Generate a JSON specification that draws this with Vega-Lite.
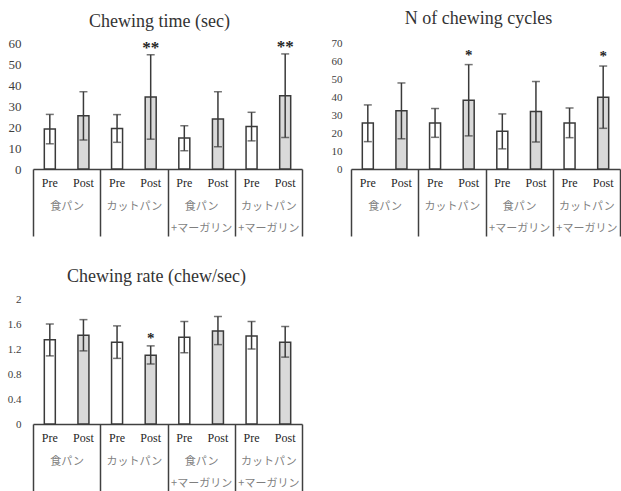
{
  "$schema": "https://vega.github.io/schema/vega-lite/v6.json",
  "padding": {"left": 7, "top": 10, "right": 0, "bottom": 0},
  "background": "white",
  "config": {
    "view": {"stroke": null},
    "axis": {"grid": false},
    "axisY": {"labelOverlap": false, "domain": false, "ticks": false, "labelFont": "Liberation Serif", "labelColor": "#404040"},
    "title": {"font": "Liberation Serif", "fontWeight": "normal", "fontSize": 18, "color": "#333333", "anchor": "middle", "frame": "group", "baseline": "alphabetic"}
  },
  "datasets": {
    "time": [
      {"group": "食パン", "cond": "Pre", "mean": 19.0, "lo": 12.0, "hi": 26.0, "sig": ""},
      {"group": "食パン", "cond": "Post", "mean": 25.3, "lo": 13.8, "hi": 36.8, "sig": ""},
      {"group": "カットパン", "cond": "Pre", "mean": 19.3, "lo": 12.7, "hi": 25.9, "sig": ""},
      {"group": "カットパン", "cond": "Post", "mean": 34.3, "lo": 14.2, "hi": 54.4, "sig": "**"},
      {"group": "食パン +マーガリン", "cond": "Pre", "mean": 14.8, "lo": 8.7, "hi": 20.6, "sig": ""},
      {"group": "食パン +マーガリン", "cond": "Post", "mean": 23.8, "lo": 10.6, "hi": 36.8, "sig": ""},
      {"group": "カットパン +マーガリン", "cond": "Pre", "mean": 20.2, "lo": 13.4, "hi": 27.0, "sig": ""},
      {"group": "カットパン +マーガリン", "cond": "Post", "mean": 34.9, "lo": 15.0, "hi": 54.8, "sig": "**"}
    ],
    "cycles": [
      {"group": "食パン", "cond": "Pre", "mean": 25.6, "lo": 15.2, "hi": 35.6, "sig": ""},
      {"group": "食パン", "cond": "Post", "mean": 32.3, "lo": 16.8, "hi": 47.8, "sig": ""},
      {"group": "カットパン", "cond": "Pre", "mean": 25.6, "lo": 17.6, "hi": 33.6, "sig": ""},
      {"group": "カットパン", "cond": "Post", "mean": 38.2, "lo": 18.4, "hi": 58.0, "sig": "*"},
      {"group": "食パン +マーガリン", "cond": "Pre", "mean": 21.0, "lo": 11.2, "hi": 30.6, "sig": ""},
      {"group": "食パン +マーガリン", "cond": "Post", "mean": 31.9, "lo": 15.0, "hi": 48.6, "sig": ""},
      {"group": "カットパン +マーガリン", "cond": "Pre", "mean": 25.6, "lo": 17.4, "hi": 33.9, "sig": ""},
      {"group": "カットパン +マーガリン", "cond": "Post", "mean": 39.9, "lo": 22.6, "hi": 57.2, "sig": "*"}
    ],
    "rate": [
      {"group": "食パン", "cond": "Pre", "mean": 1.35, "lo": 1.09, "hi": 1.60, "sig": ""},
      {"group": "食パン", "cond": "Post", "mean": 1.42, "lo": 1.17, "hi": 1.67, "sig": ""},
      {"group": "カットパン", "cond": "Pre", "mean": 1.31, "lo": 1.05, "hi": 1.57, "sig": ""},
      {"group": "カットパン", "cond": "Post", "mean": 1.10, "lo": 0.96, "hi": 1.25, "sig": "*"},
      {"group": "食パン +マーガリン", "cond": "Pre", "mean": 1.39, "lo": 1.14, "hi": 1.64, "sig": ""},
      {"group": "食パン +マーガリン", "cond": "Post", "mean": 1.49, "lo": 1.27, "hi": 1.72, "sig": ""},
      {"group": "カットパン +マーガリン", "cond": "Pre", "mean": 1.41, "lo": 1.20, "hi": 1.64, "sig": ""},
      {"group": "カットパン +マーガリン", "cond": "Post", "mean": 1.31, "lo": 1.07, "hi": 1.56, "sig": ""}
    ]
  },
  "bounds": "flush",
  "columns": 2,
  "spacing": {"row": 130, "column": 49},
  "concat": [
    {
      "title": {"text": "Chewing time (sec)", "dx": -8, "offset": 6},
      "width": 269,
      "height": 126,
      "data": {"name": "time"},
      "encoding": {
        "x": {"field": "group", "type": "nominal", "sort": null, "scale": {"paddingInner": 0, "paddingOuter": 0},
          "axis": {"title": null, "labelAngle": 0, "domainColor": "#404040", "domainWidth": 1.5, "tickBand": "extent", "tickSize": 67, "tickColor": "#404040", "tickWidth": 1.5, "labelExpr": "split(datum.label, ' ')", "labelFont": "Noto Sans CJK JP", "labelFontSize": 11, "labelColor": "#7f7f7f", "labelLineHeight": 22, "labelPadding": -36, "labelBaseline": "top"}},
        "xOffset": {"field": "cond", "type": "nominal", "sort": ["Pre", "Post"], "scale": {"paddingInner": 0, "paddingOuter": 0}}
      },
      "layer": [
        {"mark": {"type": "bar", "width": 11, "stroke": "#3a3a3a", "strokeWidth": 1.5},
         "encoding": {
           "y": {"field": "mean", "type": "quantitative", "title": null, "scale": {"domain": [0, 60], "nice": false},
             "axis": {"values": [0, 10, 20, 30, 40, 50, 60], "labelOverlap": false, "labelFontSize": 13, "labelPadding": 12}},
           "fill": {"field": "cond", "type": "nominal", "scale": {"domain": ["Pre", "Post"], "range": ["#ffffff", "#d9d9d9"]}, "legend": null}}},
        {"mark": {"type": "rule", "color": "#3a3a3a", "strokeWidth": 1.5},
         "encoding": {"y": {"field": "lo", "type": "quantitative", "title": null, "axis": {"values": [0, 10, 20, 30, 40, 50, 60], "labelOverlap": false, "labelFontSize": 13, "labelPadding": 12}}, "y2": {"field": "hi"}}},
        {"mark": {"type": "tick", "color": "#3a3a3a", "size": 8, "thickness": 1.5},
         "encoding": {"y": {"field": "lo", "type": "quantitative", "title": null, "axis": {"values": [0, 10, 20, 30, 40, 50, 60], "labelOverlap": false, "labelFontSize": 13, "labelPadding": 12}}}},
        {"mark": {"type": "tick", "color": "#3a3a3a", "size": 8, "thickness": 1.5},
         "encoding": {"y": {"field": "hi", "type": "quantitative", "title": null, "axis": {"values": [0, 10, 20, 30, 40, 50, 60], "labelOverlap": false, "labelFontSize": 13, "labelPadding": 12}}}},
        {"mark": {"type": "text", "font": "Liberation Serif", "fontSize": 17, "fontWeight": "bold", "color": "#262626", "baseline": "alphabetic", "dy": -2},
         "encoding": {"y": {"field": "hi", "type": "quantitative", "title": null, "axis": {"values": [0, 10, 20, 30, 40, 50, 60], "labelOverlap": false, "labelFontSize": 13, "labelPadding": 12}}, "text": {"field": "sig"}}},
        {"mark": {"type": "text", "font": "Liberation Serif", "fontSize": 12, "color": "#262626", "baseline": "middle", "dy": 14},
         "encoding": {"y": {"datum": 0, "type": "quantitative", "axis": {"values": [0, 10, 20, 30, 40, 50, 60], "labelOverlap": false, "labelFontSize": 13, "labelPadding": 12}}, "text": {"field": "cond"}}}
      ]
    },
    {
      "title": {"text": "N of chewing cycles", "dx": -7, "offset": 9},
      "width": 269,
      "height": 126,
      "data": {"name": "cycles"},
      "encoding": {
        "x": {"field": "group", "type": "nominal", "sort": null, "scale": {"paddingInner": 0, "paddingOuter": 0},
          "axis": {"title": null, "labelAngle": 0, "domainColor": "#404040", "domainWidth": 1.5, "tickBand": "extent", "tickSize": 67, "tickColor": "#404040", "tickWidth": 1.5, "labelExpr": "split(datum.label, ' ')", "labelFont": "Noto Sans CJK JP", "labelFontSize": 11, "labelColor": "#7f7f7f", "labelLineHeight": 22, "labelPadding": -36, "labelBaseline": "top"}},
        "xOffset": {"field": "cond", "type": "nominal", "sort": ["Pre", "Post"], "scale": {"paddingInner": 0, "paddingOuter": 0}}
      },
      "layer": [
        {"mark": {"type": "bar", "width": 11, "stroke": "#3a3a3a", "strokeWidth": 1.5},
         "encoding": {
           "y": {"field": "mean", "type": "quantitative", "title": null, "scale": {"domain": [0, 70], "nice": false},
             "axis": {"values": [0, 10, 20, 30, 40, 50, 60, 70], "labelOverlap": false, "labelFontSize": 11, "labelPadding": 9}},
           "fill": {"field": "cond", "type": "nominal", "scale": {"domain": ["Pre", "Post"], "range": ["#ffffff", "#d9d9d9"]}, "legend": null}}},
        {"mark": {"type": "rule", "color": "#3a3a3a", "strokeWidth": 1.5},
         "encoding": {"y": {"field": "lo", "type": "quantitative", "title": null, "axis": {"values": [0, 10, 20, 30, 40, 50, 60, 70], "labelOverlap": false, "labelFontSize": 11, "labelPadding": 9}}, "y2": {"field": "hi"}}},
        {"mark": {"type": "tick", "color": "#3a3a3a", "size": 8, "thickness": 1.5},
         "encoding": {"y": {"field": "lo", "type": "quantitative", "title": null, "axis": {"values": [0, 10, 20, 30, 40, 50, 60, 70], "labelOverlap": false, "labelFontSize": 11, "labelPadding": 9}}}},
        {"mark": {"type": "tick", "color": "#3a3a3a", "size": 8, "thickness": 1.5},
         "encoding": {"y": {"field": "hi", "type": "quantitative", "title": null, "axis": {"values": [0, 10, 20, 30, 40, 50, 60, 70], "labelOverlap": false, "labelFontSize": 11, "labelPadding": 9}}}},
        {"mark": {"type": "text", "font": "Liberation Serif", "fontSize": 15, "fontWeight": "bold", "color": "#262626", "baseline": "alphabetic", "dy": -5},
         "encoding": {"y": {"field": "hi", "type": "quantitative", "title": null, "axis": {"values": [0, 10, 20, 30, 40, 50, 60, 70], "labelOverlap": false, "labelFontSize": 11, "labelPadding": 9}}, "text": {"field": "sig"}}},
        {"mark": {"type": "text", "font": "Liberation Serif", "fontSize": 12, "color": "#262626", "baseline": "middle", "dy": 14},
         "encoding": {"y": {"datum": 0, "type": "quantitative", "axis": {"values": [0, 10, 20, 30, 40, 50, 60, 70], "labelOverlap": false, "labelFontSize": 11, "labelPadding": 9}}, "text": {"field": "cond"}}}
      ]
    },
    {
      "title": {"text": "Chewing rate (chew/sec)", "dx": -11, "offset": 7},
      "width": 269,
      "height": 125,
      "data": {"name": "rate"},
      "encoding": {
        "x": {"field": "group", "type": "nominal", "sort": null, "scale": {"paddingInner": 0, "paddingOuter": 0},
          "axis": {"title": null, "labelAngle": 0, "domainColor": "#404040", "domainWidth": 1.5, "tickBand": "extent", "tickSize": 67, "tickColor": "#404040", "tickWidth": 1.5, "labelExpr": "split(datum.label, ' ')", "labelFont": "Noto Sans CJK JP", "labelFontSize": 11, "labelColor": "#7f7f7f", "labelLineHeight": 22, "labelPadding": -36, "labelBaseline": "top"}},
        "xOffset": {"field": "cond", "type": "nominal", "sort": ["Pre", "Post"], "scale": {"paddingInner": 0, "paddingOuter": 0}}
      },
      "layer": [
        {"mark": {"type": "bar", "width": 11, "stroke": "#3a3a3a", "strokeWidth": 1.5},
         "encoding": {
           "y": {"field": "mean", "type": "quantitative", "title": null, "scale": {"domain": [0, 2], "nice": false},
             "axis": {"values": [0, 0.4, 0.8, 1.2, 1.6, 2], "format": "~g", "labelOverlap": false, "labelFontSize": 11, "labelPadding": 12}},
           "fill": {"field": "cond", "type": "nominal", "scale": {"domain": ["Pre", "Post"], "range": ["#ffffff", "#d9d9d9"]}, "legend": null}}},
        {"mark": {"type": "rule", "color": "#3a3a3a", "strokeWidth": 1.5},
         "encoding": {"y": {"field": "lo", "type": "quantitative", "title": null, "axis": {"values": [0, 0.4, 0.8, 1.2, 1.6, 2], "format": "~g", "labelOverlap": false, "labelFontSize": 11, "labelPadding": 12}}, "y2": {"field": "hi"}}},
        {"mark": {"type": "tick", "color": "#3a3a3a", "size": 8, "thickness": 1.5},
         "encoding": {"y": {"field": "lo", "type": "quantitative", "title": null, "axis": {"values": [0, 0.4, 0.8, 1.2, 1.6, 2], "format": "~g", "labelOverlap": false, "labelFontSize": 11, "labelPadding": 12}}}},
        {"mark": {"type": "tick", "color": "#3a3a3a", "size": 8, "thickness": 1.5},
         "encoding": {"y": {"field": "hi", "type": "quantitative", "title": null, "axis": {"values": [0, 0.4, 0.8, 1.2, 1.6, 2], "format": "~g", "labelOverlap": false, "labelFontSize": 11, "labelPadding": 12}}}},
        {"mark": {"type": "text", "font": "Liberation Serif", "fontSize": 15, "fontWeight": "bold", "color": "#262626", "baseline": "alphabetic", "dy": -3},
         "encoding": {"y": {"field": "hi", "type": "quantitative", "title": null, "axis": {"values": [0, 0.4, 0.8, 1.2, 1.6, 2], "format": "~g", "labelOverlap": false, "labelFontSize": 11, "labelPadding": 12}}, "text": {"field": "sig"}}},
        {"mark": {"type": "text", "font": "Liberation Serif", "fontSize": 12, "color": "#262626", "baseline": "middle", "dy": 14},
         "encoding": {"y": {"datum": 0, "type": "quantitative", "axis": {"values": [0, 0.4, 0.8, 1.2, 1.6, 2], "format": "~g", "labelOverlap": false, "labelFontSize": 11, "labelPadding": 12}}, "text": {"field": "cond"}}}
      ]
    }
  ]
}
